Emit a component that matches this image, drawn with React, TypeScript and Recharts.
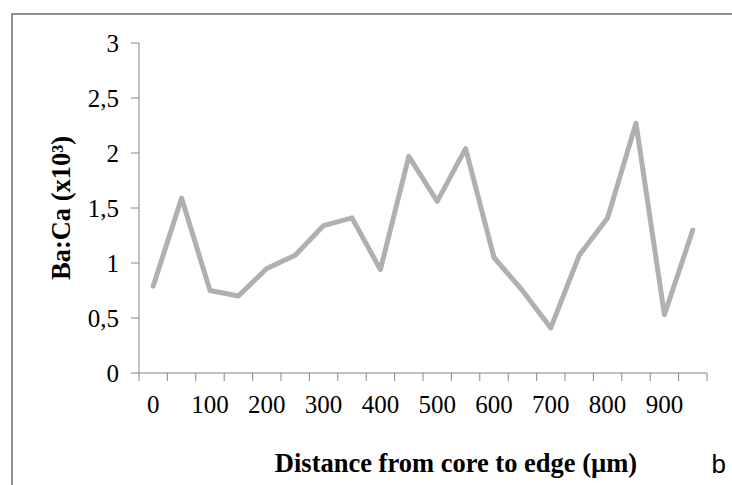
import { LineChart, Line, XAxis, YAxis, Label } from "recharts";

// Distance from core (µm) and Ba:Ca ratio (x10³)
const distances = [0, 50, 100, 150, 200, 250, 300, 350, 400, 450, 500, 550, 600, 650, 700, 750, 800, 850, 900, 950];
const baCa = [0.79, 1.59, 0.75, 0.7, 0.95, 1.07, 1.34, 1.41, 0.94, 1.97, 1.56, 2.04, 1.05, 0.75, 0.41, 1.07, 1.41, 2.27, 0.53, 1.3];

// tick marks sit between categories, labels on every other category
const boundaryTicks = [-25, 25, 75, 125, 175, 225, 275, 325, 375, 425, 475, 525, 575, 625, 675, 725, 775, 825, 875, 925, 975];
const labelTicks = [0, 100, 200, 300, 400, 500, 600, 700, 800, 900];
const yTicks = [0, 0.5, 1, 1.5, 2, 2.5, 3];

const data = distances.map((d, i) => ({ distance: d, baCa: baCa[i] }));

const axisGrey = "#868686";
const serif = "Liberation Serif, Times New Roman, serif";
const tickStyle = { fill: "#000", fontSize: 25, fontFamily: serif };

export default function App() {
  return (
    <div style={{ position: "absolute", left: 0, top: 0, width: 732, height: 485, background: "#fff" }}>
      <div
        style={{
          position: "absolute",
          left: 11,
          top: 13,
          right: 0,
          bottom: 0,
          borderLeft: "2px solid #8f8f8f",
          borderTop: "2px solid #8f8f8f",
        }}
      />
      <LineChart
        width={732}
        height={485}
        data={data}
        margin={{ top: 43, right: 25, left: 0, bottom: 0 }}
        style={{ position: "absolute", left: 0, top: 0 }}
      >
        <XAxis
          xAxisId="grid"
          dataKey="distance"
          type="number"
          domain={[-25, 975]}
          ticks={boundaryTicks}
          height={8}
          tickSize={8}
          stroke={axisGrey}
          tick={() => <g />}
          interval={0}
        />
        <XAxis
          xAxisId="labels"
          dataKey="distance"
          type="number"
          domain={[-25, 975]}
          ticks={labelTicks}
          height={104}
          tickSize={0}
          tickMargin={14}
          axisLine={false}
          tickLine={false}
          tick={tickStyle}
          interval={0}
        >
          <Label
            value="Distance from core to edge (µm)"
            position="insideBottom"
            offset={13}
            dx={33}
            style={{ fill: "#000", fontSize: 26.5, fontWeight: "bold", fontFamily: serif }}
          />
          <Label
            value="b"
            position="insideBottomRight"
            offset={12}
            dx={31}
            style={{ fill: "#000", fontSize: 26, fontFamily: "Liberation Sans, Arial, sans-serif" }}
          />
        </XAxis>
        <YAxis
          width={139}
          domain={[0, 3]}
          ticks={yTicks}
          tickSize={8}
          tickMargin={12}
          stroke={axisGrey}
          tick={tickStyle}
          tickFormatter={(v: number) => String(v).replace(".", ",")}
          interval={0}
        >
          <Label
            value="Ba:Ca (x10³)"
            angle={-90}
            position="center"
            dx={-9}
            style={{ fill: "#000", fontSize: 26.5, fontWeight: "bold", fontFamily: serif }}
          />
        </YAxis>
        <Line
          xAxisId="grid"
          type="linear"
          dataKey="baCa"
          stroke="#b0b0b0"
          strokeWidth={5}
          strokeLinejoin="round"
          strokeLinecap="round"
          dot={false}
          activeDot={false}
          isAnimationActive={false}
        />
      </LineChart>
    </div>
  );
}
